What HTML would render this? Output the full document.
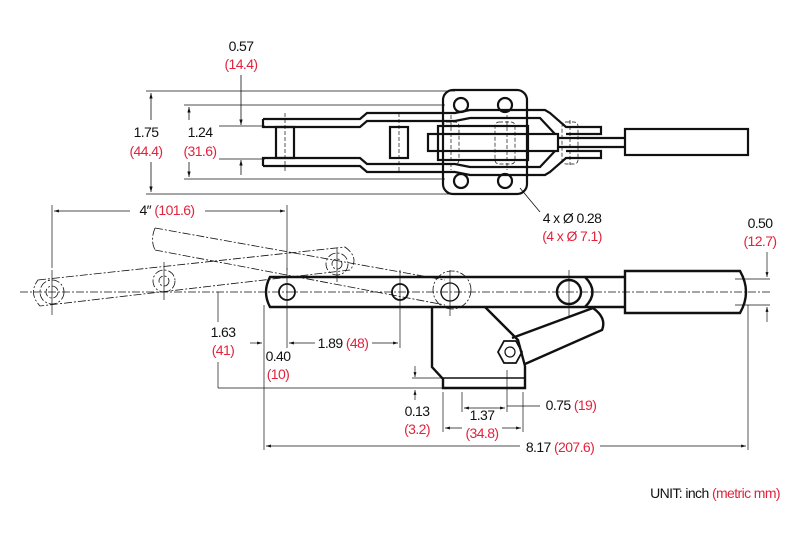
<!DOCTYPE html>
<html><head><meta charset="utf-8"><style>
html,body{margin:0;padding:0;background:#fff;}
svg{display:block;font-family:"Liberation Sans",sans-serif;font-size:14px;letter-spacing:-0.6px;}
.k{fill:#111}.r{fill:#e2233d}
</style></head><body>
<svg width="792" height="548" viewBox="0 0 792 548" xmlns="http://www.w3.org/2000/svg">
<defs><marker id="a" viewBox="0 0 10 10" refX="10" refY="5" markerWidth="7" markerHeight="7" orient="auto-start-reverse"><path d="M0,2 L10,5 L0,8 z" fill="#111"/></marker></defs>
<g fill="none" stroke="#111">
<!-- TOP VIEW -->
<g stroke-width="0.8">
<line x1="146" y1="91" x2="455" y2="91"/><line x1="146" y1="194" x2="455" y2="194"/>
<line x1="151" y1="93" x2="151" y2="120" marker-start="url(#a)"/><line x1="151" y1="162" x2="151" y2="192" marker-end="url(#a)"/>
<line x1="184" y1="105" x2="445" y2="105"/><line x1="184" y1="179" x2="445" y2="179"/>
<line x1="189" y1="107" x2="189" y2="120" marker-start="url(#a)"/><line x1="189" y1="162" x2="189" y2="177" marker-end="url(#a)"/>
<line x1="219" y1="126" x2="265" y2="126"/><line x1="219" y1="159" x2="265" y2="159"/>
<line x1="241" y1="75" x2="241" y2="125" marker-end="url(#a)"/>
<line x1="241" y1="175" x2="241" y2="160" marker-end="url(#a)"/>
<line x1="520" y1="188" x2="540" y2="212"/>
</g>
<g stroke-width="2.2">
<rect x="443" y="90" width="84" height="104" rx="10"/>
<circle cx="461" cy="105" r="7"/><circle cx="505" cy="105" r="7"/>
<circle cx="461" cy="181" r="7"/><circle cx="505" cy="181" r="7"/>
<path d="M263,119 H360 L367,113 H455 L470,110 H545 L550,113 L566,127 H601 V134 H566"/>
<path d="M263,166 H360 L367,172 H455 L470,175 H545 L550,172 L566,158 H601 V151 H566"/>
<path d="M263,119 V127 H360 L367,121 H455 L470,118 H540 L555,134"/>
<path d="M263,166 V158 H360 L367,164 H455 L470,167 H540 L555,151"/>
<rect x="276" y="127" width="18" height="31"/><rect x="390" y="127" width="18" height="31"/>
<rect x="428" y="134" width="130" height="17"/><rect x="438" y="126" width="90" height="34"/>
<line x1="558" y1="138" x2="625" y2="138"/><line x1="558" y1="147" x2="625" y2="147"/>
<rect x="625" y="129" width="123" height="26"/>
</g>
<g stroke-width="0.7" stroke-dasharray="4,2">
<line x1="285" y1="113" x2="285" y2="172"/><line x1="399" y1="113" x2="399" y2="172"/>
<line x1="451" y1="115" x2="451" y2="170"/><line x1="507" y1="115" x2="507" y2="170"/><line x1="570" y1="120" x2="570" y2="165"/>
<rect x="443" y="122" width="16" height="42" rx="4"/><rect x="495" y="122" width="20" height="42" rx="4"/><rect x="562" y="122" width="16" height="42" rx="4"/>
</g>
<!-- SIDE VIEW ghost -->
<g stroke-width="0.8" stroke-dasharray="8,2,2,2">
<path d="M38,280 L345,247 Q360,258 350,270 L40,306 Q28,293 38,280z"/>
<line x1="155" y1="228" x2="445" y2="280"/><line x1="155" y1="250" x2="445" y2="305"/>
<path d="M155,228 Q150,240 155,250"/>
<line x1="20" y1="292" x2="770" y2="292"/>
<circle cx="52" cy="292" r="12"/><circle cx="52" cy="292" r="6"/>
<circle cx="164" cy="281" r="11"/><circle cx="164" cy="281" r="5"/>
<circle cx="337" cy="264" r="11"/><circle cx="337" cy="264" r="5"/>
<circle cx="452" cy="290" r="19"/>
</g>
<g stroke-width="0.7">
<line x1="52" y1="270" x2="52" y2="315"/><line x1="164" y1="262" x2="164" y2="300"/><line x1="337" y1="248" x2="337" y2="282"/>
<line x1="287" y1="268" x2="287" y2="348"/><line x1="400" y1="270" x2="400" y2="348"/><line x1="450" y1="270" x2="450" y2="316"/><line x1="569" y1="270" x2="569" y2="316"/>
<line x1="52" y1="205" x2="52" y2="268"/><line x1="287" y1="205" x2="287" y2="270"/>
<line x1="54" y1="211" x2="130" y2="211" marker-start="url(#a)"/><line x1="205" y1="211" x2="285" y2="211" marker-end="url(#a)"/>
<line x1="218" y1="292" x2="218" y2="322"/><line x1="218" y1="362" x2="218" y2="388"/><line x1="218" y1="388" x2="443" y2="388"/>
<line x1="264" y1="305" x2="264" y2="450"/><line x1="748" y1="305" x2="748" y2="450"/>
<line x1="266" y1="446" x2="520" y2="446" marker-start="url(#a)"/><line x1="600" y1="446" x2="746" y2="446" marker-end="url(#a)"/>
<line x1="250" y1="343" x2="262" y2="343" marker-end="url(#a)"/>
<line x1="289" y1="343" x2="315" y2="343" marker-start="url(#a)"/><line x1="372" y1="343" x2="398" y2="343" marker-end="url(#a)"/>
<line x1="415" y1="366" x2="415" y2="377" marker-end="url(#a)"/><line x1="415" y1="400" x2="415" y2="390" marker-end="url(#a)"/>
<line x1="412" y1="378" x2="443" y2="378"/>
<line x1="443" y1="392" x2="443" y2="432"/><line x1="523" y1="392" x2="523" y2="432"/>
<line x1="445" y1="428" x2="462" y2="428" marker-start="url(#a)"/><line x1="502" y1="428" x2="521" y2="428" marker-end="url(#a)"/>
<line x1="462" y1="392" x2="462" y2="412"/><line x1="507" y1="370" x2="507" y2="412"/>
<line x1="464" y1="408" x2="505" y2="408" marker-start="url(#a)" marker-end="url(#a)"/><line x1="507" y1="406" x2="540" y2="406"/>
<line x1="735" y1="279" x2="770" y2="279"/><line x1="735" y1="305" x2="770" y2="305"/>
<line x1="767" y1="252" x2="767" y2="277" marker-end="url(#a)"/><line x1="767" y1="322" x2="767" y2="307" marker-end="url(#a)"/>
</g>
<!-- SIDE VIEW solid -->
<g stroke-width="2.4">
<path d="M625,277 H270 Q262,292 270,307 H625"/>
<path d="M585,277 Q600,292 585,307"/>
<path d="M625,271 H740 Q752,292 740,313 H625 Z"/>
<circle cx="569" cy="292" r="12"/>
<path d="M432,307 V367 L443,379 V388 H525 V366"/>
<rect x="443" y="378" width="82" height="10" stroke-width="1.5"/>
<path d="M485,307 L518,340 L525,366"/>
<path d="M512,338 L593,308 Q607,318 602,330 L525,364"/>
<path d="M498,352 L504,341 H516 L522,352 L516,363 H504 Z" stroke-width="1.8"/>
<circle cx="510" cy="352" r="5" stroke-width="1.2"/>
<circle cx="287" cy="292" r="8" stroke-width="1.8"/><circle cx="400" cy="292" r="8" stroke-width="1.8"/>
<circle cx="450" cy="292" r="9" stroke-width="1.3"/>
</g>
</g>
<g text-anchor="middle">
<text x="241" y="51" class="k">0.57</text><text x="241" y="69" class="r">(14.4)</text>
<text x="146" y="137" class="k">1.75</text><text x="146" y="156" class="r">(44.4)</text>
<text x="200" y="137" class="k">1.24</text><text x="200" y="156" class="r">(31.6)</text>
<text x="572" y="223" class="k">4 x Ø 0.28</text><text x="572" y="241" class="r">(4 x Ø 7.1)</text>
<text x="760" y="228" class="k">0.50</text><text x="760" y="246" class="r">(12.7)</text>
<text x="167" y="215"><tspan class="k">4″ </tspan><tspan class="r">(101.6)</tspan></text>
<text x="223" y="337" class="k">1.63</text><text x="223" y="355" class="r">(41)</text>
<text x="278" y="361" class="k">0.40</text><text x="278" y="379" class="r">(10)</text>
<text x="343" y="348"><tspan class="k">1.89 </tspan><tspan class="r">(48)</tspan></text>
<text x="417" y="416" class="k">0.13</text><text x="417" y="434" class="r">(3.2)</text>
<text x="482" y="420" class="k">1.37</text><text x="482" y="438" class="r">(34.8)</text>
<text x="571" y="410"><tspan class="k">0.75 </tspan><tspan class="r">(19)</tspan></text>
<text x="560" y="452"><tspan class="k">8.17 </tspan><tspan class="r">(207.6)</tspan></text>
</g>
<text x="780" y="498" text-anchor="end"><tspan class="k">UNIT: inch </tspan><tspan class="r">(metric mm)</tspan></text>
</svg>
</body></html>
